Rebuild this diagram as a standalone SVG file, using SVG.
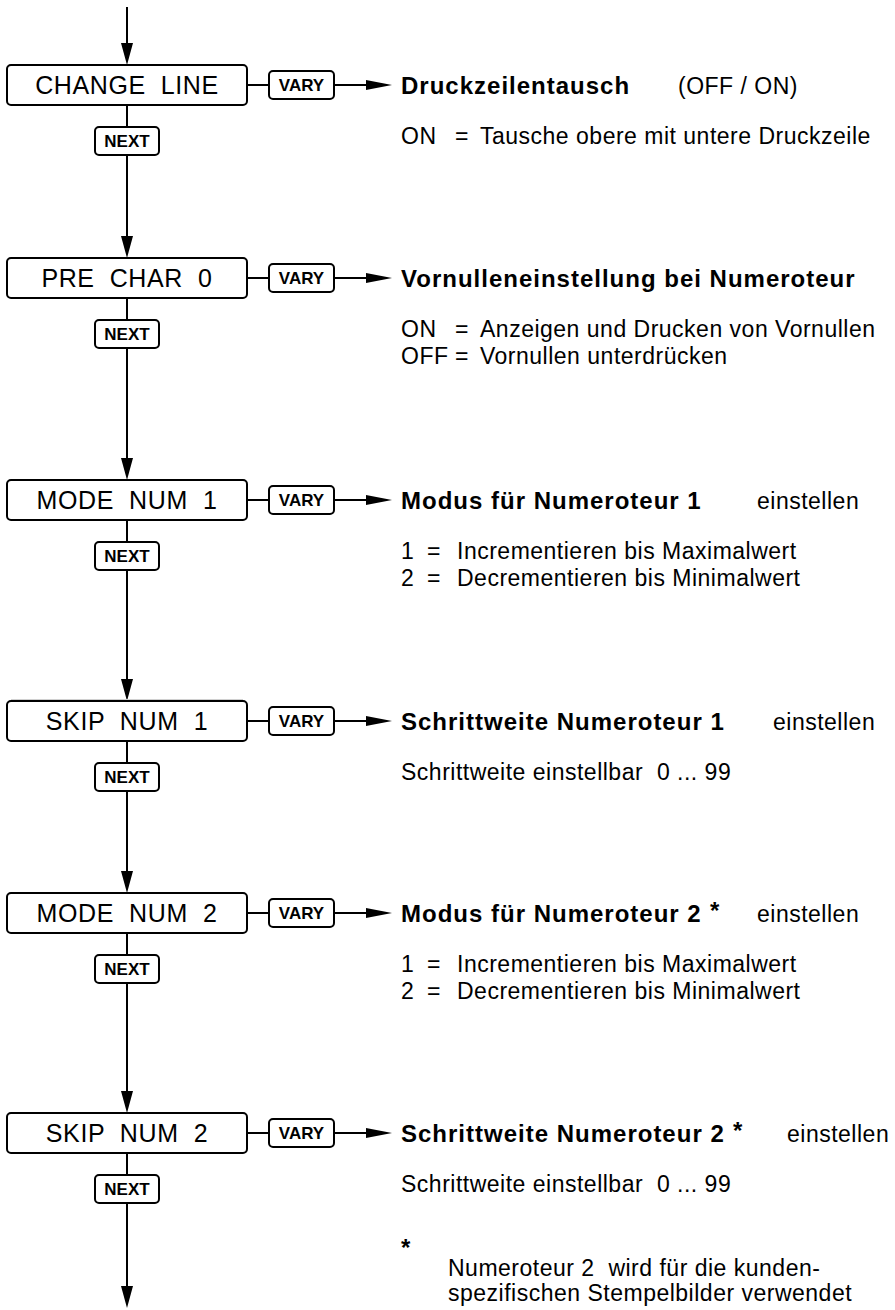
<svg xmlns="http://www.w3.org/2000/svg" width="895" height="1310" viewBox="0 0 895 1310">
<style>
text{font-family:"Liberation Sans",Arial,Helvetica,sans-serif;fill:#000;white-space:pre}
.box{fill:#fff;stroke:#000;stroke-width:2}
.main{font-size:25px;letter-spacing:0.6px;text-anchor:middle}
.kt{font-size:17px;font-weight:bold;text-anchor:middle}
.title{font-size:24px;font-weight:bold;letter-spacing:1px}
.star{font-size:24px;font-weight:bold}
.desc{font-size:23px;letter-spacing:0.5px}
.ln{stroke:#000;stroke-width:2;fill:none}
.va{marker-end:url(#ah-v)}
.ha{marker-end:url(#ah-h)}
</style>
<defs>
<marker id="ah-v" viewBox="0 0 22 12" refX="0" refY="6" markerWidth="22" markerHeight="12" markerUnits="userSpaceOnUse" orient="auto" overflow="visible"><path d="M0,0 L22,6 L0,12 z" fill="#000"/></marker>
<marker id="ah-h" viewBox="0 0 26 10" refX="0" refY="5" markerWidth="26" markerHeight="10" markerUnits="userSpaceOnUse" orient="auto" overflow="visible"><path d="M0,0 L26,5 L0,10 z" fill="#000"/></marker>
</defs>
<rect width="895" height="1310" fill="#fff"/>

<g id="connectors">
<line class="ln va" x1="127" y1="7" x2="127" y2="43"/>
<line class="ln" x1="127" y1="105" x2="127" y2="127"/>
<line class="ln va" x1="127" y1="155" x2="127" y2="236"/>
<line class="ln" x1="127" y1="298" x2="127" y2="320"/>
<line class="ln va" x1="127" y1="348" x2="127" y2="458"/>
<line class="ln" x1="127" y1="520" x2="127" y2="542"/>
<line class="ln va" x1="127" y1="570" x2="127" y2="679"/>
<line class="ln" x1="127" y1="741" x2="127" y2="763"/>
<line class="ln va" x1="127" y1="791" x2="127" y2="871"/>
<line class="ln" x1="127" y1="933" x2="127" y2="955"/>
<line class="ln va" x1="127" y1="983" x2="127" y2="1091"/>
<line class="ln" x1="127" y1="1153" x2="127" y2="1175"/>
<line class="ln va" x1="127" y1="1203" x2="127" y2="1286"/>
<line class="ln" x1="247" y1="85" x2="269" y2="85"/>
<line class="ln ha" x1="334" y1="85" x2="366" y2="85"/>
<line class="ln" x1="247" y1="278" x2="269" y2="278"/>
<line class="ln ha" x1="334" y1="278" x2="366" y2="278"/>
<line class="ln" x1="247" y1="500" x2="269" y2="500"/>
<line class="ln ha" x1="334" y1="500" x2="366" y2="500"/>
<line class="ln" x1="247" y1="721" x2="269" y2="721"/>
<line class="ln ha" x1="334" y1="721" x2="366" y2="721"/>
<line class="ln" x1="247" y1="913" x2="269" y2="913"/>
<line class="ln ha" x1="334" y1="913" x2="366" y2="913"/>
<line class="ln" x1="247" y1="1133" x2="269" y2="1133"/>
<line class="ln ha" x1="334" y1="1133" x2="366" y2="1133"/>
<line x1="11" y1="699.5" x2="243" y2="699.5" stroke="#d0d0d0" stroke-width="1"/>
</g>

<g id="node-change-line"><rect class="box" x="7" y="65" width="240" height="40" rx="4"/><text class="main" x="127" y="94">CHANGE  LINE</text></g>
<g id="key-vary-1"><rect class="box" x="269" y="71" width="65" height="28" rx="4"/><text class="kt" x="301.5" y="91">VARY</text></g>
<g id="key-next-1"><rect class="box" x="95" y="127" width="64" height="28" rx="4"/><text class="kt" x="127" y="147">NEXT</text></g>
<g id="desc-change-line">
<text class="title" x="401" y="93.5">Druckzeilentausch</text>
<text class="desc" x="678" y="93.5">(OFF / ON)</text>
<text class="desc" y="144"><tspan x="401">ON</tspan><tspan x="455">=</tspan><tspan x="480">Tausche obere mit untere Druckzeile</tspan></text>
</g>

<g id="node-pre-char-0"><rect class="box" x="7" y="258" width="240" height="40" rx="4"/><text class="main" x="127" y="287">PRE  CHAR  0</text></g>
<g id="key-vary-2"><rect class="box" x="269" y="264" width="65" height="28" rx="4"/><text class="kt" x="301.5" y="284">VARY</text></g>
<g id="key-next-2"><rect class="box" x="95" y="320" width="64" height="28" rx="4"/><text class="kt" x="127" y="340">NEXT</text></g>
<g id="desc-pre-char-0">
<text class="title" x="401" y="286.5">Vornulleneinstellung bei Numeroteur</text>
<text class="desc" y="337"><tspan x="401">ON</tspan><tspan x="455">=</tspan><tspan x="480">Anzeigen und Drucken von Vornullen</tspan></text>
<text class="desc" y="364"><tspan x="401">OFF</tspan><tspan x="455">=</tspan><tspan x="480">Vornullen unterdrücken</tspan></text>
</g>

<g id="node-mode-num-1"><rect class="box" x="7" y="480" width="240" height="40" rx="4"/><text class="main" x="127" y="509">MODE  NUM  1</text></g>
<g id="key-vary-3"><rect class="box" x="269" y="486" width="65" height="28" rx="4"/><text class="kt" x="301.5" y="506">VARY</text></g>
<g id="key-next-3"><rect class="box" x="95" y="542" width="64" height="28" rx="4"/><text class="kt" x="127" y="562">NEXT</text></g>
<g id="desc-mode-num-1">
<text class="title" x="401" y="508.5">Modus für Numeroteur 1</text>
<text class="desc" x="757" y="508.5">einstellen</text>
<text class="desc" y="559"><tspan x="401">1</tspan><tspan x="427">=</tspan><tspan x="457">Incrementieren bis Maximalwert</tspan></text>
<text class="desc" y="586"><tspan x="401">2</tspan><tspan x="427">=</tspan><tspan x="457">Decrementieren bis Minimalwert</tspan></text>
</g>

<g id="node-skip-num-1"><rect class="box" x="7" y="701" width="240" height="40" rx="4"/><text class="main" x="127" y="730">SKIP  NUM  1</text></g>
<g id="key-vary-4"><rect class="box" x="269" y="707" width="65" height="28" rx="4"/><text class="kt" x="301.5" y="727">VARY</text></g>
<g id="key-next-4"><rect class="box" x="95" y="763" width="64" height="28" rx="4"/><text class="kt" x="127" y="783">NEXT</text></g>
<g id="desc-skip-num-1">
<text class="title" x="401" y="729.5">Schrittweite Numeroteur 1</text>
<text class="desc" x="773" y="729.5">einstellen</text>
<text class="desc" x="401" y="780">Schrittweite einstellbar  0 ... 99</text>
</g>

<g id="node-mode-num-2"><rect class="box" x="7" y="893" width="240" height="40" rx="4"/><text class="main" x="127" y="922">MODE  NUM  2</text></g>
<g id="key-vary-5"><rect class="box" x="269" y="899" width="65" height="28" rx="4"/><text class="kt" x="301.5" y="919">VARY</text></g>
<g id="key-next-5"><rect class="box" x="95" y="955" width="64" height="28" rx="4"/><text class="kt" x="127" y="975">NEXT</text></g>
<g id="desc-mode-num-2">
<text class="title" x="401" y="921.5">Modus für Numeroteur 2</text>
<text class="star" x="710" y="919">*</text>
<text class="desc" x="757" y="921.5">einstellen</text>
<text class="desc" y="972"><tspan x="401">1</tspan><tspan x="427">=</tspan><tspan x="457">Incrementieren bis Maximalwert</tspan></text>
<text class="desc" y="999"><tspan x="401">2</tspan><tspan x="427">=</tspan><tspan x="457">Decrementieren bis Minimalwert</tspan></text>
</g>

<g id="node-skip-num-2"><rect class="box" x="7" y="1113" width="240" height="40" rx="4"/><text class="main" x="127" y="1142">SKIP  NUM  2</text></g>
<g id="key-vary-6"><rect class="box" x="269" y="1119" width="65" height="28" rx="4"/><text class="kt" x="301.5" y="1139">VARY</text></g>
<g id="key-next-6"><rect class="box" x="95" y="1175" width="64" height="28" rx="4"/><text class="kt" x="127" y="1195">NEXT</text></g>
<g id="desc-skip-num-2">
<text class="title" x="401" y="1141.5">Schrittweite Numeroteur 2</text>
<text class="star" x="733" y="1139">*</text>
<text class="desc" x="787" y="1141.5">einstellen</text>
<text class="desc" x="401" y="1192">Schrittweite einstellbar  0 ... 99</text>
</g>

<g id="footnote">
<text class="star" x="401" y="1256">*</text>
<text class="desc" x="448" y="1276">Numeroteur 2  wird für die kunden-</text>
<text class="desc" x="448" y="1301">spezifischen Stempelbilder verwendet</text>
</g>
</svg>
